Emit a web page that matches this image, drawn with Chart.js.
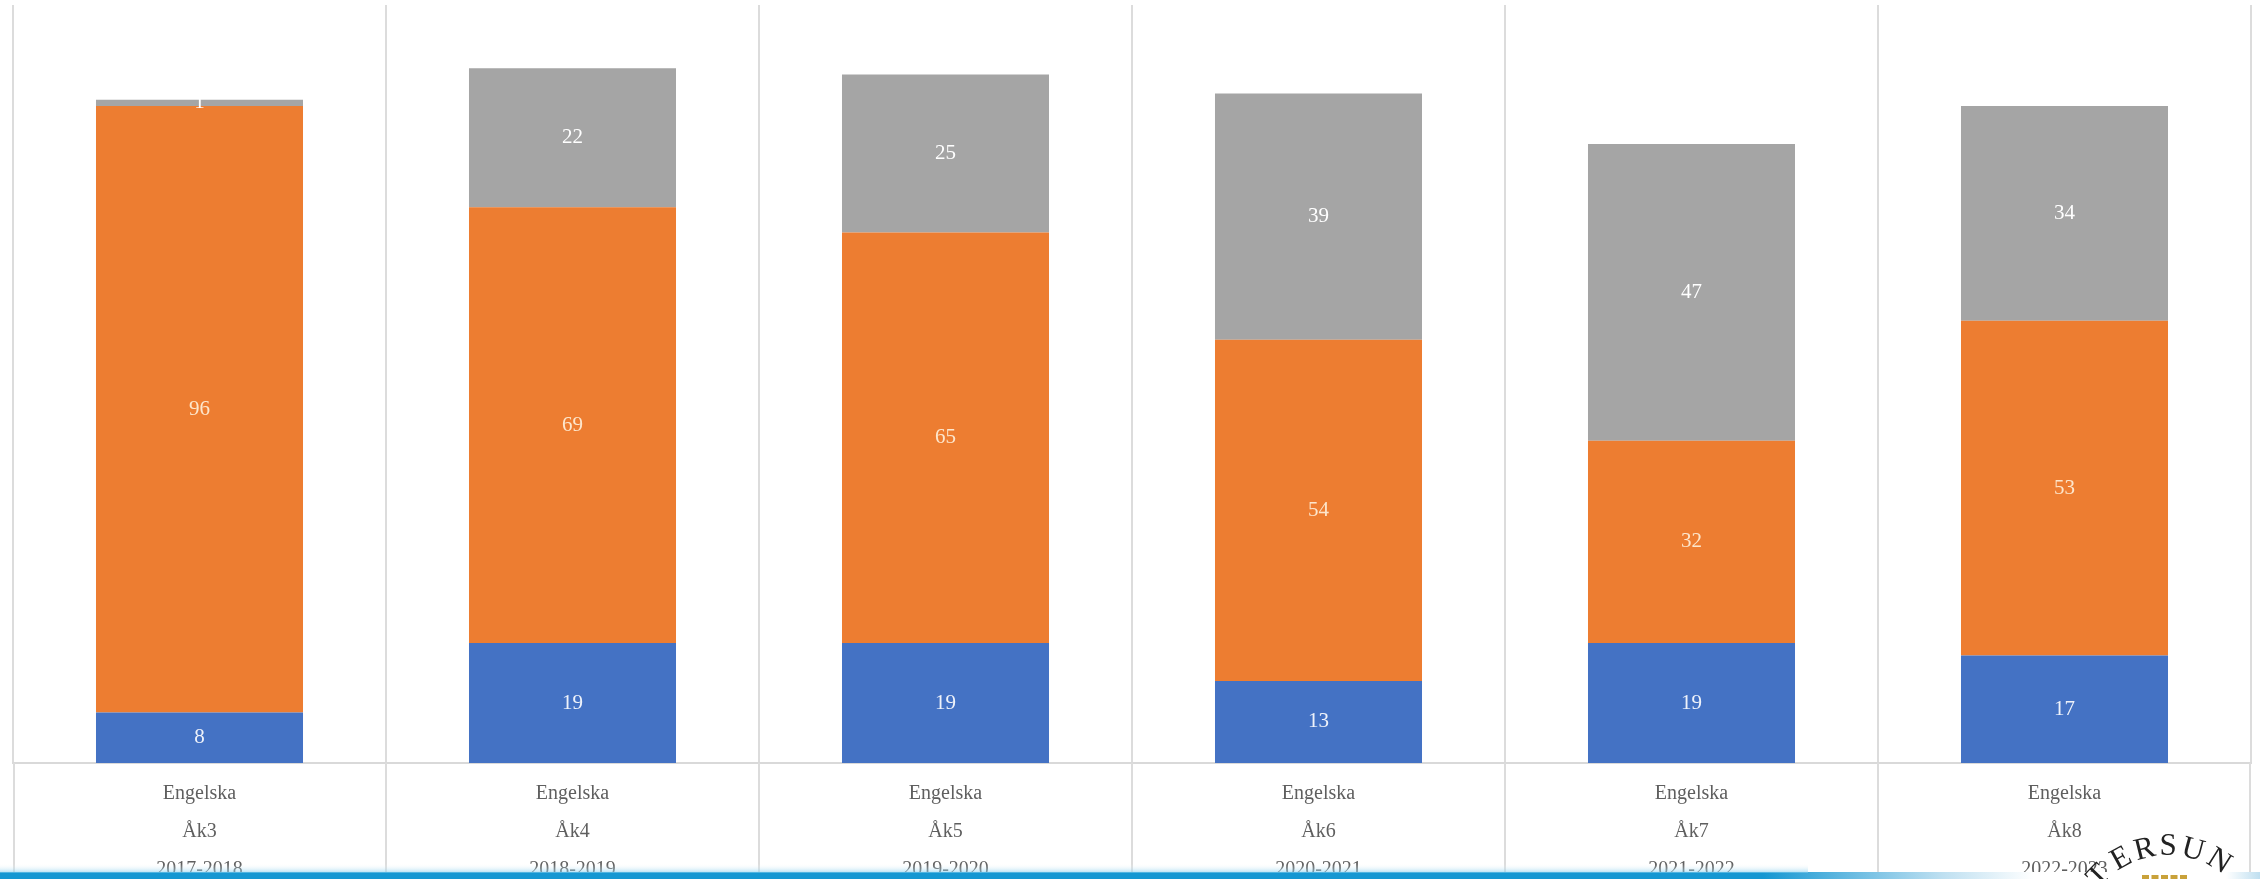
<!DOCTYPE html>
<html>
<head>
<meta charset="utf-8">
<script src="https://cdn.jsdelivr.net/npm/chart.js@4"></script>
<style>
body{margin:0;background:#fff;}
</style>
</head>
<body>
<canvas id="chart" width="2260" height="879"></canvas>
<script>
// categories (three-line labels)
let subjects=['Engelska','Engelska','Engelska','Engelska','Engelska','Engelska'];
let grades=['Åk3','Åk4','Åk5','Åk6','Åk7','Åk8'];
let years=['2017-2018','2018-2019','2019-2020','2020-2021','2021-2022','2022-2023'];
// series values
let blueVals=[8,19,19,13,19,17];
let orangeVals=[96,69,65,54,32,53];
let greyVals=[1,22,25,39,47,34];

let labels=[];
for(let i=0;i<subjects.length;++i){
    labels.push([subjects[i],grades[i],years[i]]);
}

// value labels inside the bars
let valueLabels={
    id:'valueLabels',
    afterDatasetsDraw(chart){
        let ctx=chart.ctx;
        ctx.save();
        ctx.font='21px "Liberation Serif"';
        ctx.textAlign='center';
        ctx.textBaseline='middle';
        chart.data.datasets.forEach(function(ds,i){
            let meta=chart.getDatasetMeta(i);
            meta.data.forEach(function(bar,j){
                let p=bar.getCenterPoint();
                ctx.fillStyle=ds.labelColor;
                ctx.fillText(ds.data[j],p.x,p.y);
            });
        });
        ctx.restore();
    }
};

// category dividers run on through the label area
let dividers={
    id:'dividers',
    beforeDatasetsDraw(chart){
        let ctx=chart.ctx,x=chart.scales.x,area=chart.chartArea;
        let n=chart.data.labels.length;
        ctx.save();
        ctx.strokeStyle='#dcdcdc';
        ctx.lineWidth=2;
        for(let i=0;i<=n;++i){
            let px;
            if(i==0) px=area.left+1;
            else if(i==n) px=area.right-1;
            else px=(x.getPixelForValue(i-1)+x.getPixelForValue(i))/2;
            ctx.beginPath();
            ctx.moveTo(px,area.bottom);
            ctx.lineTo(px,chart.height);
            ctx.stroke();
        }
        ctx.restore();
    }
};

// blue band and logo fragment at the bottom
let footer={
    id:'footer',
    afterDraw(chart){
        let ctx=chart.ctx;
        let w=chart.width,h=chart.height;
        ctx.save();
        let g=ctx.createLinearGradient(0,0,w,0);
        g.addColorStop(0,'#1597d2');
        g.addColorStop(0.78,'#1597d2');
        g.addColorStop(0.86,'#bfe0f1');
        g.addColorStop(0.90,'#ffffff');
        g.addColorStop(0.985,'#ffffff');
        g.addColorStop(1,'#bfdff0');
        ctx.fillStyle=g;
        ctx.fillRect(0,872,w,h-872);
        let g2=ctx.createLinearGradient(0,864,0,873);
        g2.addColorStop(0,'rgba(255,255,255,0)');
        g2.addColorStop(1,'rgba(120,200,235,0.6)');
        ctx.fillStyle=g2;
        ctx.fillRect(0,864,w*0.8,9);
        // logo letters on an arc
        let letters=['T','E','R','S','U','N'];
        let angles=[-136,-119,-104,-90,-75,-58];
        let cx=2168,cy=943,r=96;
        ctx.fillStyle='#222222';
        ctx.font='31px "Liberation Serif"';
        ctx.textAlign='center';
        ctx.textBaseline='middle';
        for(let i=0;i<letters.length;++i){
            let a=angles[i]*Math.PI/180;
            ctx.save();
            ctx.translate(cx+r*Math.cos(a),cy+r*Math.sin(a));
            ctx.rotate(a+Math.PI/2);
            ctx.fillText(letters[i],0,0);
            ctx.restore();
        }
        ctx.fillStyle='#c9a23a';
        for(let k=0;k<5;++k){
            ctx.fillRect(2142+k*9.5,875,7,4);
        }
        ctx.restore();
    }
};

new Chart('chart',{
    type:'bar',
    data:{
        labels:labels,
        datasets:[
            {data:blueVals,backgroundColor:'#4472c4',labelColor:'#eef2fa'},
            {data:orangeVals,backgroundColor:'#ed7d31',labelColor:'#fde6cc'},
            {data:greyVals,backgroundColor:'#a5a5a5',labelColor:'#ffffff'}
        ]
    },
    plugins:[dividers,valueLabels,footer],
    options:{
        responsive:false,
        animation:false,
        layout:{padding:{left:13,right:9,top:5,bottom:-22}},
        datasets:{bar:{barPercentage:0.555,categoryPercentage:1}},
        plugins:{legend:{display:false},tooltip:{enabled:false}},
        scales:{
            x:{
                stacked:true,
                grid:{color:'#dcdcdc',lineWidth:2,drawTicks:false},
                border:{color:'#d9d9d9',width:2},
                ticks:{
                    color:'#5f5f5f',
                    padding:12,
                    font:{family:'"Liberation Serif"',size:20,lineHeight:1.9},
                    maxRotation:0,
                    autoSkip:false
                }
            },
            y:{
                stacked:true,
                display:false,
                min:0,
                max:120
            }
        }
    }
});
</script>
</body>
</html>
